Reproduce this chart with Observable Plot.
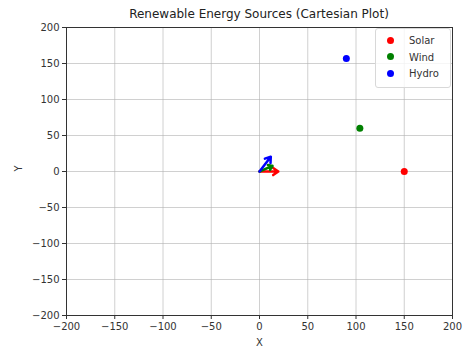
<!DOCTYPE html>
<html>
<head>
<meta charset="utf-8">
<script src="https://cdn.jsdelivr.net/npm/d3@7"></script>
<script src="https://cdn.jsdelivr.net/npm/@observablehq/plot@0.6"></script>
<style>
  html, body { margin: 0; padding: 0; background: #fff; }
  #wrap { position: relative; width: 464px; height: 350px; font-family: "DejaVu Sans", sans-serif; }
  #title { position: absolute; left: 66px; width: 386px; top: 7px; text-align: center; font-size: 12px; color: #222; }
  #chart { position: absolute; left: 0; top: 20px; }
  #legend { position: absolute; left: 375px; top: 28px; width: 74px; height: 58px; border: 1px solid #d8d8d8; border-radius: 3px; background: rgba(255,255,255,0.8); font-size: 10px; color: #333; }
  .li { position: absolute; left: 11px; height: 12px; line-height: 12px; }
  .li span.d { display: inline-block; width: 7px; height: 7px; border-radius: 50%; margin-right: 15px; vertical-align: middle; position: relative; top: -1px; }
</style>
</head>
<body>
<div id="wrap">
  <div id="title">Renewable Energy Sources (Cartesian Plot)</div>
  <div id="chart"></div>
  <div id="legend"></div>
</div>
<script>
const sources = ["Solar", "Wind", "Hydro"];
const xValues = [150, 104, 90];
const yValues = [0, 60, 157];
const colors = ["red", "green", "blue"];
const ticks = [-200, -150, -100, -50, 0, 50, 100, 150, 200];
const arrowScale = 0.13;

const data = sources.map((s, i) => ({source: s, x: xValues[i], y: yValues[i], color: colors[i]}));
const fmt = d => String(d).replace("-", "\u2212");

const plot = Plot.plot({
  width: 464,
  height: 330,
  marginLeft: 66,
  marginRight: 12,
  marginTop: 7,
  marginBottom: 35,
  style: {fontFamily: "DejaVu Sans, sans-serif", fontSize: "10px", color: "#333"},
  x: {domain: [-200, 200], ticks: ticks, tickSize: 4, label: null, tickFormat: fmt},
  y: {domain: [-200, 200], ticks: ticks, tickSize: 4, label: null, tickFormat: fmt},
  marks: [
    Plot.gridX(ticks, {stroke: "#b0b0b0", strokeOpacity: 0.6, strokeWidth: 1}),
    Plot.gridY(ticks, {stroke: "#b0b0b0", strokeOpacity: 0.6, strokeWidth: 1}),
    Plot.frame({stroke: "#333", strokeWidth: 1}),
    Plot.axisX({ticks: ticks, tickSize: 4, tickPadding: 3, label: null, tickFormat: fmt}),
    Plot.axisY({ticks: ticks, tickSize: 4, tickPadding: 3, label: null, tickFormat: fmt}),
    Plot.arrow(data, {
      x1: () => 0, y1: () => 0,
      x2: d => d.x * arrowScale, y2: d => d.y * arrowScale,
      stroke: d => d.color, strokeWidth: 2.5, headLength: 6, headAngle: 70, bend: false
    }),
    Plot.dot(data, {x: "x", y: "y", fill: d => d.color, r: 3.5, stroke: "none"}),
    Plot.text(["X"], {frameAnchor: "bottom", dy: 30, fontSize: 10, fill: "#333"}),
    Plot.text(["Y"], {frameAnchor: "left", dx: -48, rotate: -90, fontSize: 10, fill: "#333"})
  ]
});
document.getElementById("chart").appendChild(plot);

const legend = document.getElementById("legend");
sources.forEach((s, i) => {
  const row = document.createElement("div");
  row.className = "li";
  row.style.top = (6 + i * 16.5) + "px";
  row.innerHTML = `<span class="d" style="background:${colors[i]}"></span>${s}`;
  legend.appendChild(row);
});
</script>
</body>
</html>
